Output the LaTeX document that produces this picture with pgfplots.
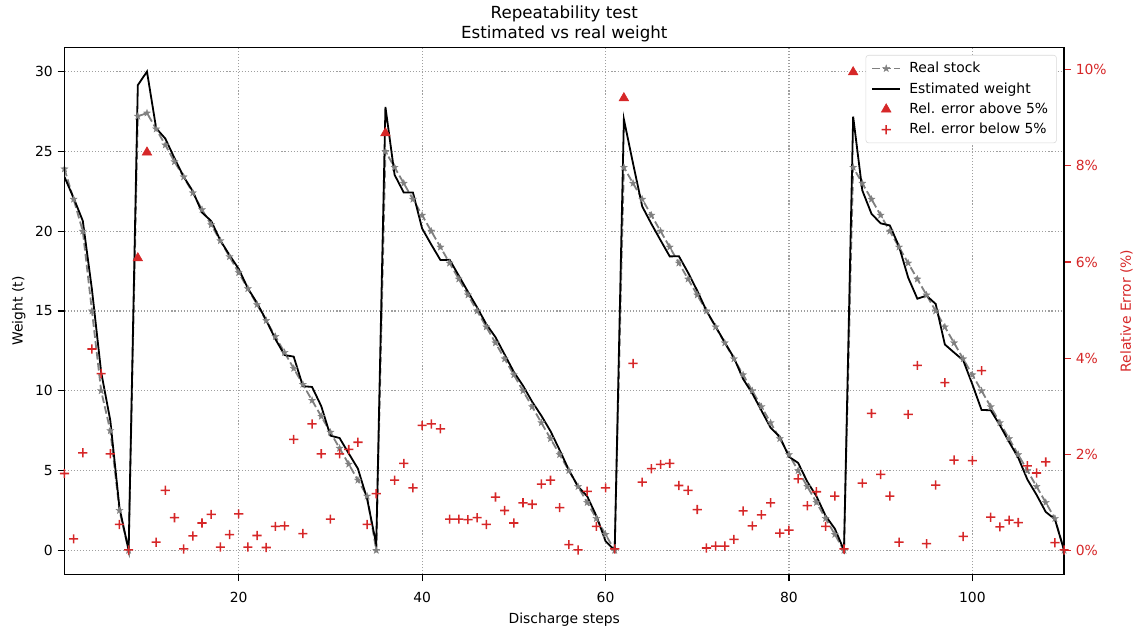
\documentclass[border=0pt]{standalone}
\usepackage{fontspec}
\setmainfont{DejaVu Sans}
\usepackage{pgfplots}
\usepackage{pgfplotstable}
\pgfplotsset{compat=1.18}
\definecolor{tabred}{HTML}{D62728}
\definecolor{stargray}{HTML}{808080}

\pgfdeclareplotmark{fstar}{%
  \pgfpathmoveto{\pgfpointpolar{90}{\pgfplotmarksize}}%
  \pgfpathlineto{\pgfpointpolar{126}{0.4\pgfplotmarksize}}%
  \pgfpathlineto{\pgfpointpolar{162}{\pgfplotmarksize}}%
  \pgfpathlineto{\pgfpointpolar{198}{0.4\pgfplotmarksize}}%
  \pgfpathlineto{\pgfpointpolar{234}{\pgfplotmarksize}}%
  \pgfpathlineto{\pgfpointpolar{270}{0.4\pgfplotmarksize}}%
  \pgfpathlineto{\pgfpointpolar{306}{\pgfplotmarksize}}%
  \pgfpathlineto{\pgfpointpolar{342}{0.4\pgfplotmarksize}}%
  \pgfpathlineto{\pgfpointpolar{18}{\pgfplotmarksize}}%
  \pgfpathlineto{\pgfpointpolar{54}{0.4\pgfplotmarksize}}%
  \pgfpathclose\pgfusepathqfillstroke}

% filled plus shape (arms of half-length r, half-thickness 0.55bp)
\pgfdeclareplotmark{fplus}{%
  \pgfsetfillcolor{tabred}%
  \pgfpathmoveto{\pgfqpoint{-\pgfplotmarksize}{-0.55bp}}%
  \pgfpathlineto{\pgfqpoint{-0.55bp}{-0.55bp}}%
  \pgfpathlineto{\pgfqpoint{-0.55bp}{-\pgfplotmarksize}}%
  \pgfpathlineto{\pgfqpoint{0.55bp}{-\pgfplotmarksize}}%
  \pgfpathlineto{\pgfqpoint{0.55bp}{-0.55bp}}%
  \pgfpathlineto{\pgfqpoint{\pgfplotmarksize}{-0.55bp}}%
  \pgfpathlineto{\pgfqpoint{\pgfplotmarksize}{0.55bp}}%
  \pgfpathlineto{\pgfqpoint{0.55bp}{0.55bp}}%
  \pgfpathlineto{\pgfqpoint{0.55bp}{\pgfplotmarksize}}%
  \pgfpathlineto{\pgfqpoint{-0.55bp}{\pgfplotmarksize}}%
  \pgfpathlineto{\pgfqpoint{-0.55bp}{0.55bp}}%
  \pgfpathlineto{\pgfqpoint{-\pgfplotmarksize}{0.55bp}}%
  \pgfpathclose\pgfusepathqfill}

\pgfplotstableread{
x real est
1 23.9 23.4
2 22 22.08
3 20 20.65
4 15 16.34
5 10 11.18
6 7.5 8.14
7 2.5 2.67
8 0 0
9 27.2 29.15
10 27.4 30.0
11 26.4 26.45
12 25.4 25.8
13 24.35 24.57
14 23.4 23.41
15 22.4 22.5
16 21.35 21.17
17 20.4 20.64
18 19.4 19.42
19 18.4 18.5
20 17.4 17.64
21 16.4 16.42
22 15.4 15.5
23 14.4 14.42
24 13.4 13.24
25 12.4 12.24
26 11.4 12.14
27 10.4 10.29
28 9.4 10.24
29 8.4 9.04
30 7.4 7.19
31 6.4 7.04
32 5.4 6.07
33 4.4 5.12
34 3.4 3.23
35 0 0.38
36 25 27.78
37 24 23.53
38 23 22.42
39 22 22.42
40 21 20.17
41 20 19.16
42 19 18.19
43 18 18.21
44 17 17.21
45 16 16.2
46 15 15.22
47 14 14.17
48 13 13.36
49 12 12.27
50 11 11.18
51 10 10.32
52 9 9.31
53 8 8.44
54 7 7.47
55 6 6.28
56 5 5.04
57 4 4.0
58 3 3.39
59 2 2.16
60 1 0.58
61 0 0.01
62 24 27.01
63 23 24.24
64 22 21.55
65 21 20.46
66 20 19.43
67 19 18.42
68 18 18.43
69 17 17.4
70 16 16.27
71 15 15.02
72 14 14.03
73 13 13.03
74 12 12.07
75 11 10.74
76 10 9.84
77 9 8.76
78 8 7.68
79 7 7.12
80 6 5.87
81 5 5.48
82 4 4.3
83 3 3.39
84 2 2.16
85 1 1.36
86 0 0.01
87 24 27.18
88 23 22.55
89 22 21.09
90 21 20.49
91 20 20.36
92 19 19.05
93 18 17.09
94 17 15.77
95 16 15.96
96 15 15.44
97 14 12.9
98 13 12.4
99 12 11.91
100 11 10.4
101 10 8.8
102 9 8.78
103 8 7.84
104 7 6.8
105 6 5.81
106 5 4.44
107 4 3.48
108 3 2.41
109 2 1.95
110 0 0
}\weights

\pgfplotstableread{
x err
9 6.08
10 8.28
36 8.68
62 9.41
87 9.95
}\above

\pgfplotstableread{
x err
1 1.60
2 0.24
3 2.03
4 4.19
5 3.68
6 2.01
7 0.54
8 0.01
11 0.17
12 1.25
13 0.68
14 0.03
15 0.30
16 0.57
17 0.75
18 0.07
19 0.33
20 0.76
21 0.07
22 0.31
23 0.06
24 0.50
25 0.51
26 2.31
27 0.35
28 2.63
29 2.01
30 0.65
31 2.01
32 2.10
33 2.25
34 0.54
35 1.18
37 1.46
38 1.81
39 1.30
40 2.60
41 2.63
42 2.53
43 0.65
44 0.65
45 0.64
46 0.68
47 0.54
48 1.11
49 0.83
50 0.57
51 0.99
52 0.96
53 1.38
54 1.46
55 0.89
56 0.12
57 0.01
58 1.23
59 0.50
60 1.30
61 0.03
63 3.89
64 1.42
65 1.70
66 1.79
67 1.81
68 1.35
69 1.25
70 0.85
71 0.05
72 0.09
73 0.09
74 0.23
75 0.82
76 0.51
77 0.74
78 0.99
79 0.36
80 0.42
81 1.49
82 0.93
83 1.22
84 0.50
85 1.13
86 0.03
88 1.40
89 2.85
90 1.58
91 1.13
92 0.17
93 2.83
94 3.85
95 0.14
96 1.36
97 3.49
98 1.88
99 0.29
100 1.87
101 3.74
102 0.69
103 0.49
104 0.63
105 0.58
106 1.76
107 1.61
108 1.84
109 0.16
110 0.01
}\below

\pgfplotsset{
  common/.style={
    at={(0,0)}, anchor=south west, scale only axis,
    width=719.7bp, height=379.2bp,
    xmin=1, xmax=110,
    tick align=outside,
    major tick length=4.9bp,
    /pgf/number format/assume math mode=true,
    tick label style={font=\fontsize{10bp}{12bp}\selectfont},
    label style={font=\fontsize{10bp}{12bp}\selectfont},
    axis line style={line width=0.9bp},
    legend image code/.code={\draw[mark repeat=2,mark phase=2,##1] plot coordinates {(0bp,0bp) (10bp,0bp) (20bp,0bp)};},
  },
  realstyle/.style={stargray, line width=1.3bp, dash pattern=on 5.5bp off 2.4bp, mark=fstar, mark size=2.7bp, mark options={solid, fill=stargray, line width=0.2bp}},
}

\begin{document}
\begin{tikzpicture}
\useasboundingbox (-46.4bp,-41.5bp) rectangle (772.2bp,413.5bp);
\begin{axis}[common,
  ymin=-1.5, ymax=31.5,
  xtick={20,40,60,80,100}, ytick={0,5,10,15,20,25,30},
  tick pos=left,
  every tick/.style={black, line width=0.8bp},
  grid=major,
  grid style={gray!75, line width=0.8bp, dash pattern=on 0.8bp off 1.4bp},
  xticklabel style={yshift=-4.5bp},
  xlabel={Discharge steps},
  xlabel style={yshift=-0.6bp},
  ylabel={Weight (t)},
  title={Repeatability test\\Estimated vs real weight},
  title style={align=center, font=\fontsize{12bp}{14.4bp}\selectfont, at={(0.5,1)}, anchor=south, yshift=-2.4bp, inner sep=0pt},
]
\addplot[realstyle] table[x=x, y=real] {\weights};
\addplot[black, line width=1.3bp, mark=none] table[x=x, y=est] {\weights};
\end{axis}
\begin{axis}[common,
  ymin=-0.498, ymax=10.46,
  hide x axis,
  ytick pos=right, yticklabel pos=right,
  ytick={0,2,4,6,8,10},
  yticklabel={\pgfmathprintnumber{\tick}\%},
  y tick label style={text=tabred},
  every tick/.style={tabred, line width=0.8bp},
  ylabel={Relative Error (\%)},
  ylabel style={text=tabred, yshift=-3bp},
  legend cell align=left,
  legend style={at={(1,1)}, anchor=north east, xshift=-5.3bp, yshift=-5.3bp,
    draw=gray!30, rounded corners=2bp, fill=white, font=\fontsize{10bp}{12bp}\selectfont,
    row sep=1.6bp, inner xsep=4bp, inner ysep=3bp,
    /tikz/every odd column/.append style={column sep=4bp}},
]
\addlegendimage{realstyle}
\addlegendentry{Real stock}
\addlegendimage{black, line width=1.3bp}
\addlegendentry{Estimated weight}
\addplot[only marks, mark=triangle*, mark size=4bp, tabred, mark options={fill=tabred, draw=tabred}] table[x=x, y=err] {\above};
\addlegendentry{Rel. error above 5\%}
\addplot[only marks, mark=fplus, mark size=3.3bp, tabred, mark options={fill=tabred, draw=none, solid}] table[x=x, y=err] {\below};
\addlegendentry{Rel. error below 5\%}
\end{axis}
\end{tikzpicture}
\end{document}
